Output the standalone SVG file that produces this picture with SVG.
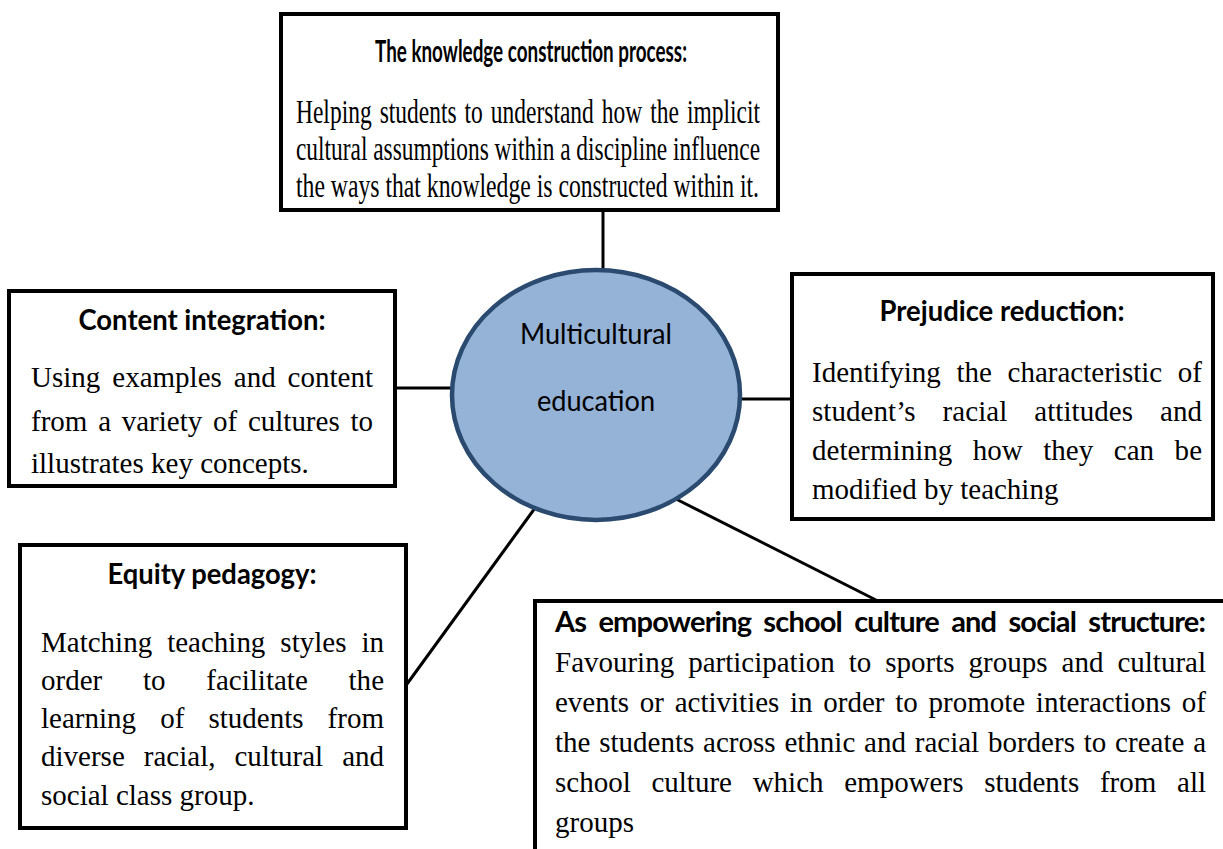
<svg xmlns="http://www.w3.org/2000/svg" width="1223" height="849" viewBox="0 0 1223 849">
<style>
.box{fill:#fff;stroke:#000;stroke-width:4}
.b{font-family:"Liberation Serif","Times New Roman",serif;font-size:29px;fill:#000}
.h{font-family:Lato,"Open Sans",sans-serif;font-weight:bold;font-size:29px;fill:#000}
.c{font-family:Lato,"Open Sans",sans-serif;font-size:29px;fill:#000}
.k{font-size:33px}
.conn line{stroke:#000;stroke-width:3}
</style>
<rect width="1223" height="849" fill="#fff"/>
<g id="connectors" class="conn">
<line x1="603" y1="212" x2="603" y2="272"/>
<line x1="397" y1="388" x2="454" y2="388"/>
<line x1="738" y1="399" x2="790" y2="399"/>
<line x1="535" y1="508" x2="407" y2="684"/>
<line x1="676" y1="499" x2="876" y2="600"/>
</g>
<g id="center">
<ellipse cx="596" cy="395" rx="144" ry="125" fill="#95B3D7" stroke="#2A4A70" stroke-width="4.5"/>
<text class="c" x="596" y="344" text-anchor="middle" textLength="152" lengthAdjust="spacingAndGlyphs">Multicultural</text>
<text class="c" x="596" y="411" text-anchor="middle" textLength="118" lengthAdjust="spacingAndGlyphs">education</text>
</g>
<g id="knowledge">
<rect class="box" x="281" y="14" width="497" height="196"/>
<text class="h" x="531" y="62" text-anchor="middle" style="font-size:30px" textLength="312" lengthAdjust="spacingAndGlyphs">The knowledge construction process:</text>
<text class="b k" x="296" y="123" textLength="464" lengthAdjust="spacingAndGlyphs" word-spacing="3">Helping students to understand how the implicit</text>
<text class="b k" x="296" y="160" textLength="464" lengthAdjust="spacingAndGlyphs">cultural assumptions within a discipline influence</text>
<text class="b k" x="296" y="197" textLength="463" lengthAdjust="spacingAndGlyphs">the ways that knowledge is constructed within it.</text>
</g>
<g id="content">
<rect class="box" x="9" y="291" width="386" height="195"/>
<text class="h" x="202" y="330" text-anchor="middle" textLength="247" lengthAdjust="spacingAndGlyphs">Content integration:</text>
<text class="b" x="31" y="387" word-spacing="4.7" textLength="342" lengthAdjust="spacing">Using examples and content</text>
<text class="b" x="31" y="431" word-spacing="3.5" textLength="342" lengthAdjust="spacing">from a variety of cultures to</text>
<text class="b" x="31" y="473">illustrates key concepts.</text>
</g>
<g id="prejudice">
<rect class="box" x="792" y="274" width="421" height="245"/>
<text class="h" x="1002" y="321" text-anchor="middle" textLength="245" lengthAdjust="spacingAndGlyphs">Prejudice reduction:</text>
<text class="b" x="812" y="382" word-spacing="8.4" textLength="390" lengthAdjust="spacing">Identifying the characteristic of</text>
<text class="b" x="812" y="421" word-spacing="19.6" textLength="390" lengthAdjust="spacing">student’s racial attitudes and</text>
<text class="b" x="812" y="460" word-spacing="13.3" textLength="390" lengthAdjust="spacing">determining how they can be</text>
<text class="b" x="812" y="499">modified by teaching</text>
</g>
<g id="equity">
<rect class="box" x="20" y="545" width="386" height="283"/>
<text class="h" x="212" y="584" text-anchor="middle" textLength="209" lengthAdjust="spacingAndGlyphs">Equity pedagogy:</text>
<text class="b" x="41" y="652" word-spacing="7.75" textLength="343" lengthAdjust="spacing">Matching teaching styles in</text>
<text class="b" x="41" y="690" word-spacing="33.5" textLength="343" lengthAdjust="spacing">order to facilitate the</text>
<text class="b" x="41" y="728" word-spacing="16.9" textLength="343" lengthAdjust="spacing">learning of students from</text>
<text class="b" x="41" y="766" word-spacing="11.8" textLength="343" lengthAdjust="spacing">diverse racial, cultural and</text>
<text class="b" x="41" y="805">social class group.</text>
</g>
<g id="empowering">
<rect class="box" x="535" y="601" width="720" height="300"/>
<text class="h" x="555" y="632" textLength="651" lengthAdjust="spacing" word-spacing="6">As empowering school culture and social structure:</text>
<text class="b" x="555" y="672" word-spacing="6.8" textLength="651" lengthAdjust="spacing">Favouring participation to sports groups and cultural</text>
<text class="b" x="555" y="712" word-spacing="3.45" textLength="651" lengthAdjust="spacing">events or activities in order to promote interactions of</text>
<text class="b" x="555" y="752" word-spacing="1.55" textLength="651" lengthAdjust="spacing">the students across ethnic and racial borders to create a</text>
<text class="b" x="555" y="792" word-spacing="13.45" textLength="651" lengthAdjust="spacing">school culture which empowers students from all</text>
<text class="b" x="555" y="832">groups</text>
</g>
</svg>
